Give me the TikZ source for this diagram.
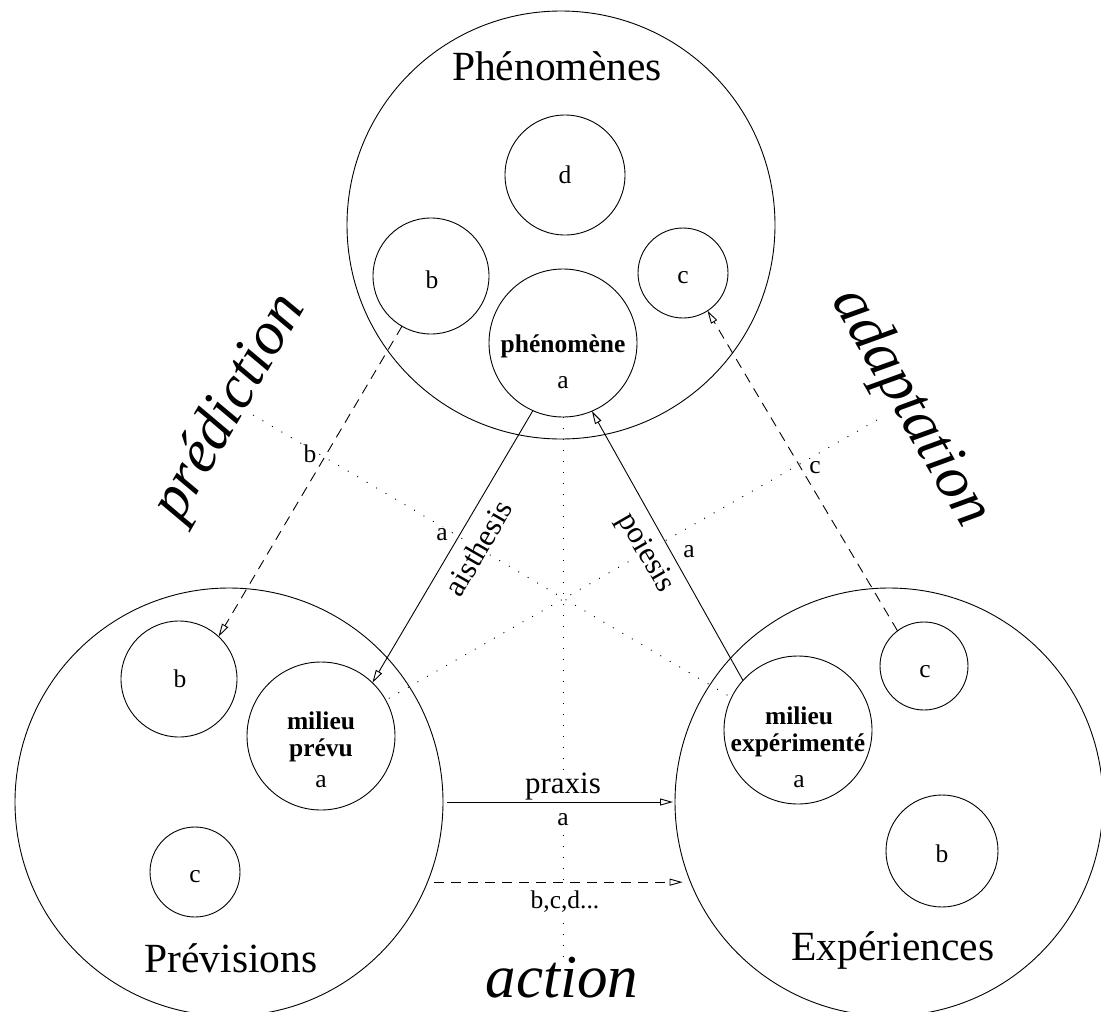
\documentclass[tikz,border=0pt]{standalone}
\usepackage{fontspec}
\setmainfont{Liberation Serif}
\usetikzlibrary{arrows.meta}
\newcommand\FsBig{\fontsize{41.5pt}{48pt}\selectfont}
\newcommand\FsIt{\fontsize{61pt}{70pt}\selectfont\itshape}
\newcommand\FsMed{\fontsize{31pt}{36pt}\selectfont}
\newcommand\FsSml{\fontsize{25.5pt}{29pt}\selectfont}
\begin{document}
\begin{tikzpicture}[x=1pt,y=-1pt,
  circ/.style={circle,draw,inner sep=0pt,outer sep=0pt,line width=0.9pt},
  lbl/.style={inner sep=0pt,anchor=base},
  onl/.style={fill=white,inner sep=1.5pt},
  con/.style={line width=0.9pt,-{Triangle[open,length=13pt,width=7pt]}},
  dsh/.style={dash pattern=on 10pt off 7pt},
  dotl/.style={line width=0.9pt,dash pattern=on 1pt off 10pt},
]
\useasboundingbox (0,0) rectangle (1101,1012);

% big circles
\node[circ,minimum size=428pt] (tp) at (561,225) {};
\node[circ,minimum size=428pt] (prev) at (229,802) {};
\node[circ,minimum size=428pt] (exp) at (889,802) {};

% top inner circles
\node[circ,minimum size=120pt] (td) at (565,175) {};
\node[circ,minimum size=116pt] (tb) at (431,276) {};
\node[circ,minimum size=90pt]  (tc) at (683,273) {};
\node[circ,minimum size=148pt] (pa) at (563,343) {};

% bottom-left inner circles
\node[circ,minimum size=116pt] (lb) at (179,679) {};
\node[circ,minimum size=148pt] (mp) at (321,736) {};
\node[circ,minimum size=90pt]  (lc) at (195,872) {};

% bottom-right inner circles
\node[circ,minimum size=148pt] (me) at (798,730) {};
\node[circ,minimum size=88pt]  (rc) at (924,666) {};
\node[circ,minimum size=112pt] (rb) at (942,851) {};

% dotted construction lines
\coordinate (d1) at (563,962);
\coordinate (d2) at (253,415);
\coordinate (d3) at (877,420);
\draw[dotl] (pa.south) -- (d1);
\draw[dotl] (d2) -- (me.154);
\draw[dotl] (d3) -- (mp.29);

% labels on lines
\node[font=\FsMed,onl,anchor=base] (praxis) at (563,793) {praxis};
\node[font=\FsSml,onl,anchor=base] (pra) at (563,825) {a};
\node[font=\FsSml,onl,anchor=base] (bcd) at (565,908) {b,c,d...};
\node[font=\FsMed,onl,rotate=60] (aist) at (478,548) {aisthesis};
\node[font=\FsMed,onl,rotate=-60] (poie) at (645,553) {poiesis};
\node[font=\FsSml,onl,anchor=base] (la) at (442,540) {a};
\node[font=\FsSml,onl,anchor=base] (ra) at (689,557) {a};
\node[font=\FsSml,onl,anchor=base] (lbb) at (310,462) {b};
\node[font=\FsSml,onl,anchor=base] (rcc) at (815,473) {c};

% big italic labels
\node[font=\FsIt,anchor=base] (action) at (562,997) {action};
\node[font=\FsIt,rotate=60] (pred) at (230,408) {prédiction};
\node[font=\FsIt,rotate=-60] (adap) at (910,408) {adaptation};

% titles
\node[font=\FsBig,lbl] (tPhen) at (557,80) {Phénomènes};
\node[font=\FsBig,lbl] (tPrev) at (231,972) {Prévisions};
\node[font=\FsBig,lbl] (tExp) at (893,960) {Expériences};

% texts in top circles
\node[font=\FsSml,lbl] (xd) at (565,183) {d};
\node[font=\FsSml,lbl] (xtb) at (432,288) {b};
\node[font=\FsSml,lbl] (xtc) at (683,283) {c};
\node[font=\FsSml\bfseries,lbl] (xpa1) at (563,352) {phénomène};
\node[font=\FsSml,lbl] (xpa2) at (563,388) {a};

% texts in bottom-left circles
\node[font=\FsSml,lbl] (xlb) at (180,687) {b};
\node[font=\FsSml\bfseries,lbl] (xmp1) at (321,729) {milieu};
\node[font=\FsSml\bfseries,lbl] (xmp2) at (321,756) {prévu};
\node[font=\FsSml,lbl] (xmp3) at (321,787) {a};
\node[font=\FsSml,lbl] (xlc) at (195,882) {c};

% texts in bottom-right circles
\node[font=\FsSml\bfseries,lbl] (xme1) at (799,724) {milieu};
\node[font=\FsSml\bfseries,lbl] (xme2) at (798,751) {expérimenté};
\node[font=\FsSml,lbl] (xme3) at (799,787) {a};
\node[font=\FsSml,lbl] (xrc) at (925,677) {c};
\node[font=\FsSml,lbl] (xrb) at (942,862) {b};

% connectors
\draw[con] (pa.246) -- (mp.46);
\draw[con] (me.138) -- (pa.293);
\draw[con,shorten <=4pt,shorten >=2pt] (prev.east) -- (exp.west);
\draw[con,dsh,shorten <=7pt,shorten >=8pt] (prev.-22) -- (exp.202);
\draw[con,dsh] (tb.240) -- (lb.47);
\draw[con,dsh] (rc.127) -- (tc.303);
\end{tikzpicture}
\end{document}
